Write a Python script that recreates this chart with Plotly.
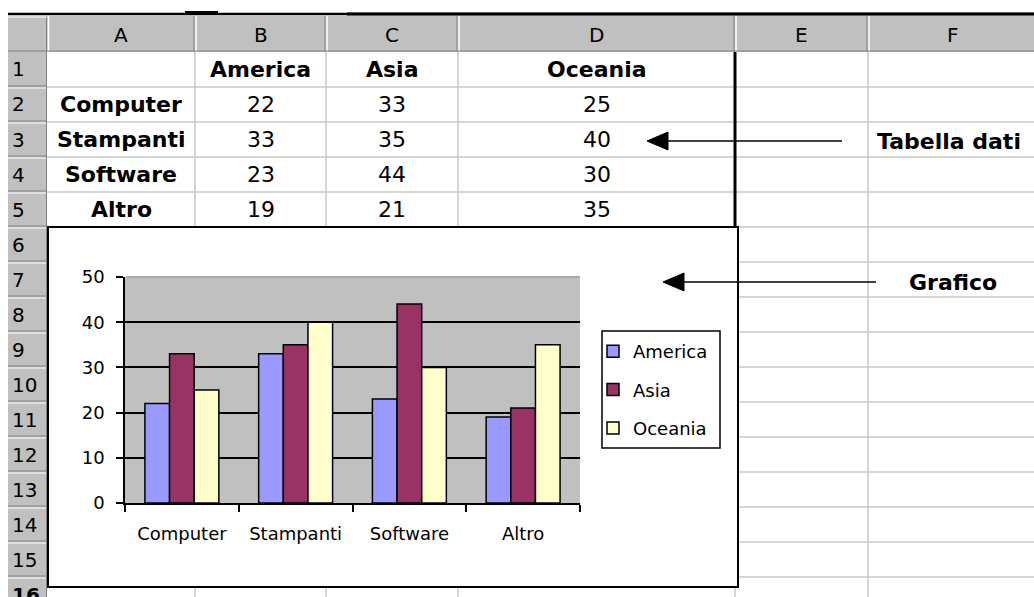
import plotly.graph_objects as go

# data from the sheet
categories = ["Computer", "Stampanti", "Software", "Altro"]
regions = ["America", "Asia", "Oceania"]
america = [22, 33, 23, 19]
asia = [33, 35, 44, 21]
oceania = [25, 40, 30, 35]
col_letters = ["A", "B", "C", "D", "E", "F"]
row_numbers = list(range(1, 17))
y_ticks = [0, 10, 20, 30, 40, 50]

W, H = 1034, 597
FONT = "DejaVu Sans"

# sheet geometry (pixels)
col_edges = [47, 195, 326, 458, 735, 868, 1040]
head_top, head_bot = 16, 52
row_h = 35


def px(x):
    return x / W


def py(y):
    return 1 - y / H


def line(x0, y0, x1, y1, color, width=1):
    return dict(type="line", xref="paper", yref="paper", layer="below",
                x0=px(x0), y0=py(y0), x1=px(x1), y1=py(y1),
                line=dict(color=color, width=width))


def rect(x0, y0, x1, y1, fill, color=None, width=0):
    return dict(type="rect", xref="paper", yref="paper", layer="below",
                x0=px(x0), y0=py(y0), x1=px(x1), y1=py(y1), fillcolor=fill,
                line=dict(color=color or fill, width=width))


def text(x, y, s, size=22, bold=False, anchor="center"):
    return dict(xref="paper", yref="paper", x=px(x), y=py(y), text=s,
                showarrow=False, xanchor=anchor, yanchor="middle",
                font=dict(family=FONT, size=size, color="black",
                          weight="bold" if bold else "normal"))


def arrow(tip, tail, y):
    # shaft + filled head, pointing left
    head = "M{},{} L{},{} L{},{} Z".format(px(tip), py(y), px(tip + 21), py(y - 9),
                                          px(tip + 21), py(y + 9))
    return [line(tip + 10, y, tail, y, "black", 1.5),
            dict(type="path", xref="paper", yref="paper", path=head,
                 fillcolor="black", line=dict(color="black", width=1))]


shapes = []
annotations = []

# header row and row-number column
shapes.append(rect(8, head_top, 1034, head_bot, "#C0C0C0"))
shapes.append(rect(8, head_top, 47, 597, "#C0C0C0"))

# cell grid
for k in range(1, 17):
    y = head_bot + row_h * k
    shapes.append(line(47, y, 1034, y, "#C8C8C8", 1.5))
    shapes.append(line(8, y - 1, 47, y - 1, "#808080", 1))
    shapes.append(line(8, y + 1, 47, y + 1, "white", 1))
for x in col_edges[1:-1]:
    shapes.append(line(x, head_bot, x, 597, "#C8C8C8", 1.5))
    shapes.append(line(x - 1, head_top, x - 1, head_bot, "#808080", 1))
    shapes.append(line(x + 1, head_top, x + 1, head_bot, "white", 1.5))
shapes.append(line(46.5, head_top, 46.5, 597, "#808080", 1))
shapes.append(line(48.5, head_top, 48.5, head_bot, "white", 1.5))
shapes.append(line(8, head_bot - 1, 1034, head_bot - 1, "#808080", 1))
shapes.append(line(8, head_top + 1, 47, head_top + 1, "white", 1))

# top edge and thick table border
shapes.append(line(8, 14, 1034, 14, "black", 2.5))
shapes.append(rect(347, 12.5, 1034, 15.5, "black"))
shapes.append(rect(185, 11, 218, 15, "black"))
shapes.append(line(735, head_bot, 735, 228, "black", 3))

# embedded chart box
shapes.append(rect(48, 227, 738, 587, "white", "black", 2))

# legend frame (legend itself is transparent on top)
shapes.append(rect(602, 331, 720, 448, "white", "black", 1.5))

# grey plot area, under the gridlines
shapes.append(dict(type="rect", xref="x domain", yref="y domain", layer="below",
                   x0=0, x1=1, y0=0, y1=1, fillcolor="#C0C0C0",
                   line=dict(width=0)))
shapes.append(dict(type="line", xref="x domain", yref="y domain", layer="above",
                   x0=0.003, x1=1, y0=1, y1=1, line=dict(color="#A8A8A8", width=2)))

# arrows to the labels
shapes += arrow(647, 842, 141)
shapes += arrow(663, 876, 282)

# header texts
for i, c in enumerate(col_letters):
    cx = (col_edges[i] + col_edges[i + 1]) / 2
    if c == "F":
        cx = 953
    annotations.append(text(cx, 35, c, size=20))
for r in row_numbers:
    cy = head_bot + row_h * (r - 0.5)
    annotations.append(text(10, cy, str(r), size=20, anchor="left", bold=(r == 16)))

# table content
centres = [(col_edges[i] + col_edges[i + 1]) / 2 for i in range(4)]
for j, reg in enumerate(regions):
    annotations.append(text(centres[j + 1], head_bot + row_h * 0.5, reg, bold=True))
for i, cat in enumerate(categories):
    cy = head_bot + row_h * (i + 1.5)
    annotations.append(text(centres[0], cy, cat, bold=True))
    for j, vals in enumerate([america, asia, oceania]):
        annotations.append(text(centres[j + 1], cy, str(vals[i])))

annotations.append(text(875, 141, "Tabella dati", bold=True, anchor="left"))
annotations.append(text(907, 282, "Grafico", bold=True, anchor="left"))

fig = go.Figure()
colors = ["#9999FF", "#993366", "#FFFFCC"]
for name, vals, col in zip(regions, [america, asia, oceania], colors):
    fig.add_trace(go.Bar(
        name=name, x=categories, y=vals, legendgroup=name,
        marker=dict(color=col, line=dict(color="black", width=1.5)),
    ))

fig.update_layout(
    width=W, height=H,
    margin=dict(l=0, r=0, t=0, b=0, autoexpand=False),
    paper_bgcolor="white",
    plot_bgcolor="rgba(0,0,0,0)",
    barmode="group",
    bargap=0.35,
    bargroupgap=0,
    font=dict(family=FONT, size=18, color="black"),
    shapes=shapes,
    annotations=annotations,
    showlegend=True,
    legend=dict(
        x=px(593), y=py(333), xanchor="left", yanchor="top",
        bgcolor="rgba(0,0,0,0)", borderwidth=0,
        font=dict(family=FONT, size=18, color="black"),
        traceorder="grouped", tracegroupgap=12,
    ),
    xaxis=dict(
        domain=[px(125), px(580)],
        showline=True, linecolor="black", linewidth=1.5,
        ticks="outside", tickson="boundaries", ticklen=7,
        tickcolor="black", tickwidth=1.5,
        showgrid=False, ticklabelstandoff=14,
        tickfont=dict(family=FONT, size=18, color="black"),
        fixedrange=True,
    ),
    yaxis=dict(
        domain=[py(503), py(277)],
        range=[0, 50], tickvals=y_ticks,
        showline=True, linecolor="black", linewidth=1.5,
        ticks="outside", ticklen=7, tickcolor="black", tickwidth=1.5,
        showgrid=True, gridcolor="black", gridwidth=1.5,
        zeroline=False, ticklabelstandoff=8,
        tickfont=dict(family=FONT, size=18, color="black"),
        fixedrange=True,
    ),
)

fig.write_html("out.html", config={"displayModeBar": False},
               post_script="document.body.style.margin='0';document.body.style.overflow='hidden';")
